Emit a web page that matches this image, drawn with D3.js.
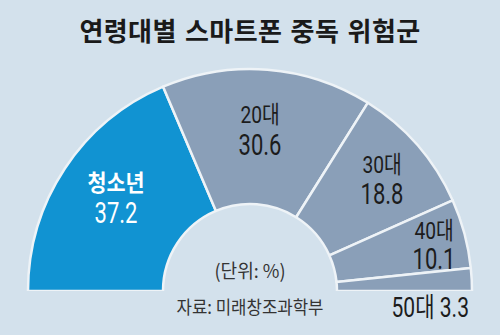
<!DOCTYPE html>
<html>
<head>
<meta charset="utf-8">
<script src="https://cdn.jsdelivr.net/npm/d3@7"></script>
<style>
  html, body { margin: 0; padding: 0; background: #d3e1ec; }
  svg { display: block; }
</style>
</head>
<body>
<svg id="chart" width="500" height="335"></svg>
<script>
// Age groups and share of smartphone-addiction risk group (%)
const groups = ["청소년", "20대", "30대", "40대", "50대"];
const shares = [37.2, 30.6, 18.8, 10.1, 3.3];

const title = "연령대별 스마트폰 중독 위험군";
const unitNote = "(단위: %)";
const sourceNote = "자료: 미래창조과학부";

const W = 500, H = 335;
const cx = 250, cy = 291;
const outerR = 222, innerR = 87;

const svg = d3.select("#chart");

svg.append("rect").attr("width", W).attr("height", H).attr("fill", "#d3e1ec");

// Title
svg.append("text")
  .attr("x", 250).attr("y", 41)
  .attr("text-anchor", "middle")
  .attr("font-family", "'Noto Sans CJK KR', sans-serif")
  .attr("font-weight", 700)
  .attr("font-size", 26)
  .attr("letter-spacing", 0.4)
  .attr("word-spacing", 2)
  .attr("fill", "#1a1a1a")
  .text(title);

// Half-donut
const pie = d3.pie().sort(null).value(d => d)
  .startAngle(-Math.PI / 2).endAngle(Math.PI / 2);
const arcs = pie(shares);
const arc = d3.arc().innerRadius(innerR).outerRadius(outerR);
const color = i => (i === 0 ? "#1193d2" : "#8a9fb8");

const g = svg.append("g").attr("transform", `translate(${cx},${cy})`);
g.selectAll("path.slice")
  .data(arcs)
  .join("path")
  .attr("class", "slice")
  .attr("d", arc)
  .attr("fill", (d, i) => color(i))
  .attr("stroke", "#eef3f7")
  .attr("stroke-width", 2.5)
  .attr("stroke-linejoin", "round");

// Cover the stroke along the flat base so the bottom edge stays clean
svg.append("rect")
  .attr("x", 0).attr("y", cy).attr("width", W).attr("height", 4)
  .attr("fill", "#d3e1ec");

// Label anchors (name line baseline and value line baseline), in px
const labelPos = [
  { x: 116, y1: 191, y2: 223 },
  { x: 260, y1: 123, y2: 155 },
  { x: 382, y1: 173, y2: 204 },
  { x: 434, y1: 239, y2: 269 }
];

function addText(x, y, str, opts) {
  return svg.append("text")
    .attr("transform", `translate(${x},${y}) scale(${opts.sx || 1},1)`)
    .attr("text-anchor", opts.anchor || "middle")
    .attr("font-family", opts.family || "Roboto, 'Noto Sans CJK KR', sans-serif")
    .attr("font-weight", opts.weight || 400)
    .attr("font-size", opts.size)
    .attr("fill", opts.fill)
    .text(str);
}

labelPos.forEach((p, i) => {
  const first = i === 0;
  const fill = first ? "#ffffff" : "#1c1c1c";
  addText(p.x, p.y1, groups[i], {
    size: first ? 23 : 24, sx: first ? 0.9 : 0.8, weight: first ? 700 : 400, fill
  });
  addText(p.x, p.y2, shares[i].toFixed(1), {
    size: 29, sx: 0.76, fill
  });
});

// Smallest slice labelled outside, below the arc
const last = groups.length - 1;
addText(469, 317, groups[last] + " " + shares[last].toFixed(1), {
  size: 27, sx: 0.78, anchor: "end", fill: "#1c1c1c"
});

// Unit and source notes in the hole
addText(250, 278, unitNote, { size: 19, sx: 0.95, fill: "#333333",
  family: "'Noto Sans CJK KR', sans-serif" });
addText(250, 314, sourceNote, { size: 18, sx: 0.93, fill: "#333333",
  family: "'Noto Sans CJK KR', sans-serif" });
</script>
</body>
</html>
